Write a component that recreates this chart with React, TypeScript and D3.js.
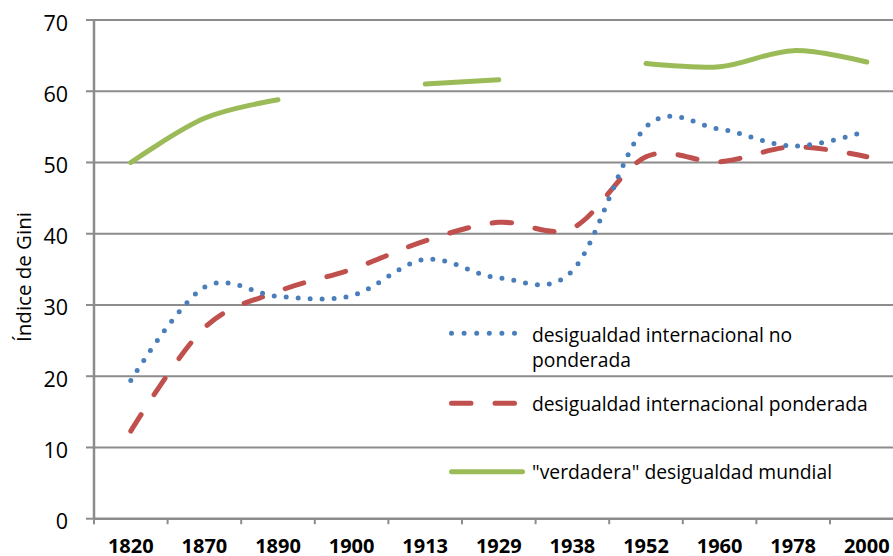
import React from 'react';
import * as d3 from 'd3';

// Gini index series
const categories = ['1820', '1870', '1890', '1900', '1913', '1929', '1938', '1952', '1960', '1978', '2000'];
const unweighted = [19.4, 32.5, 31.2, 31.3, 36.4, 33.8, 34.8, 55.0, 54.7, 52.3, 54.4];
const weighted = [12.3, 26.8, 31.9, 35.0, 39.0, 41.6, 40.8, 50.8, 50.1, 52.2, 50.8];
const trueWorld: (number | null)[] = [50.0, 56.2, 58.8, null, 61.0, 61.6, null, 63.9, 63.45, 65.7, 64.1];
const yTicks = [0, 10, 20, 30, 40, 50, 60, 70];

const legendLabels = [
  ['desigualdad internacional no', 'ponderada'],
  ['desigualdad internacional ponderada'],
  ['"verdadera" desigualdad mundial'],
];

const W = 893;
const H = 556;
const FONT = '"Open Sans", "Noto Sans", sans-serif';

const BLUE = '#4a7ebb';
const RED = '#c0504d';
const GREEN = '#9bbb59';
const GRID = '#8c8c8c';

const App: React.FC = () => {
  const left = 94;
  const band = 73.6;

  const x = d3.scaleBand<string>()
    .domain(categories)
    .range([left, left + band * categories.length])
    .padding(0);

  const y = d3.scaleLinear().domain([0, 70]).range([518.7, 20]);

  const cx = (i: number) => (x(categories[i]) ?? 0) + x.bandwidth() / 2;

  // Excel-style smoothed line, broken where a value is missing
  const line = d3.line<number | null>()
    .defined(d => d != null)
    .x((_, i) => cx(i))
    .y(d => y(d as number))
    .curve(d3.curveCatmullRom.alpha(0));

  const plotRight = left + band * categories.length;

  // legend sample lines
  const legX0 = 451.5;
  const legX1 = 514.5;
  const textX = 532;
  const legSize = 19.3;

  return (
    <svg
      width={W}
      height={H}
      style={{ position: 'absolute', left: 0, top: 0, display: 'block', background: '#fff' }}
    >
      {/* gridlines */}
      {yTicks.filter(t => t > 0).map(t => (
        <line key={t} x1={left} x2={plotRight} y1={y(t)} y2={y(t)} stroke={GRID} strokeWidth={2} />
      ))}

      {/* y axis */}
      <line x1={left} x2={left} y1={y(70) - 1} y2={y(0)} stroke={GRID} strokeWidth={2.5} />
      {yTicks.map(t => (
        <g key={t}>
          <line x1={86} x2={left} y1={y(t)} y2={y(t)} stroke={GRID} strokeWidth={2} />
          <text
            x={68}
            y={y(t) + 10.5}
            textAnchor="end"
            fontFamily={FONT}
            fontSize={21.5}
            fill="#000"
          >
            {t}
          </text>
        </g>
      ))}

      {/* x axis */}
      <line x1={left} x2={plotRight} y1={y(0)} y2={y(0)} stroke={GRID} strokeWidth={2.5} />
      {categories.map((c, i) => (
        <g key={c}>
          <line
            x1={x(c) ?? 0}
            x2={x(c) ?? 0}
            y1={y(0)}
            y2={y(0) + 5.5}
            stroke={GRID}
            strokeWidth={2}
          />
          <text
            x={cx(i)}
            y={553}
            textAnchor="middle"
            fontFamily={FONT}
            fontWeight="bold"
            fontSize={20}
            fill="#000"
          >
            {c}
          </text>
        </g>
      ))}

      {/* y axis title */}
      <text
        transform={`translate(31, 277) rotate(-90)`}
        textAnchor="middle"
        fontFamily={FONT}
        fontSize={20.5}
        fill="#000"
      >
        Índice de Gini
      </text>

      {/* series */}
      <path
        d={line(trueWorld) ?? ''}
        fill="none"
        stroke={GREEN}
        strokeWidth={5}
        strokeLinecap="round"
        strokeLinejoin="round"
      />
      <path
        d={line(weighted) ?? ''}
        fill="none"
        stroke={RED}
        strokeWidth={5}
        strokeLinecap="round"
        strokeDasharray="19.5 24"
      />
      <path
        d={line(unweighted) ?? ''}
        fill="none"
        stroke={BLUE}
        strokeWidth={5}
        strokeLinecap="round"
        strokeDasharray="0 12"
      />

      {/* legend */}
      <line x1={legX0} x2={legX1} y1={333.3} y2={333.3} stroke={BLUE} strokeWidth={5}
        strokeLinecap="round" strokeDasharray="0 12.6" />
      <text x={textX} y={342} fontFamily={FONT} fontSize={legSize} fill="#000">{legendLabels[0][0]}</text>
      <text x={textX} y={366.5} fontFamily={FONT} fontSize={legSize} fill="#000">{legendLabels[0][1]}</text>

      <line x1={legX0} x2={legX1} y1={403.3} y2={403.3} stroke={RED} strokeWidth={5}
        strokeLinecap="round" strokeDasharray="19.5 24" />
      <text x={textX} y={411} fontFamily={FONT} fontSize={legSize} fill="#000">{legendLabels[1][0]}</text>

      <line x1={legX0} x2={522.5} y1={471.7} y2={471.7} stroke={GREEN} strokeWidth={5}
        strokeLinecap="round" />
      <text x={textX} y={479.3} fontFamily={FONT} fontSize={legSize} fill="#000">{legendLabels[2][0]}</text>
    </svg>
  );
};

export default App;
